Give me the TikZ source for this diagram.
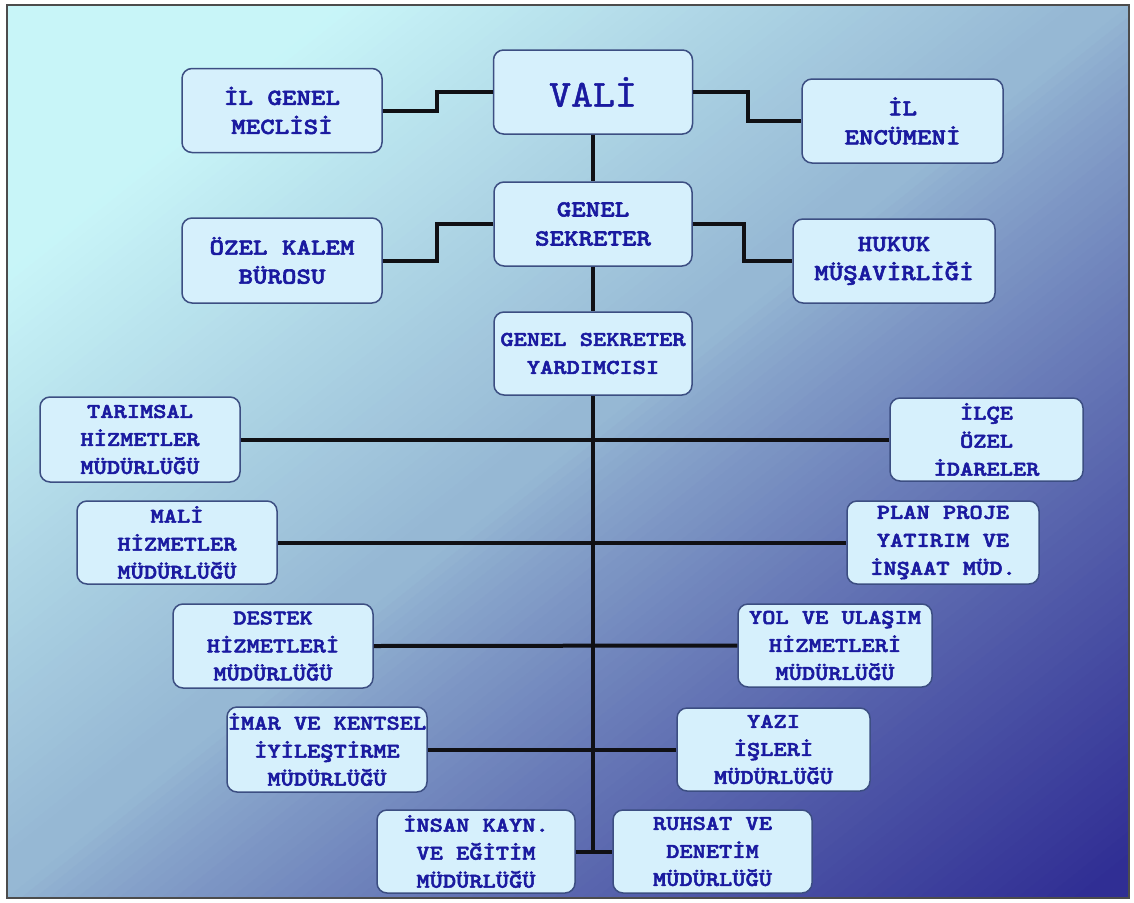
\documentclass[tikz,border=0pt]{standalone}
\usepackage{fontspec}
\newfontfamily\orgfont{lmmonolt10-bold.otf}[FakeStretch=1.2,FakeBold=2.5]
\newfontfamily\valifont{lmmono10-regular.otf}[FakeStretch=1.1,FakeBold=1.2]
\usetikzlibrary{positioning,calc}
\definecolor{boxfill}{RGB}{214,240,252}
\definecolor{boxedge}{RGB}{60,78,130}
\definecolor{boxtext}{RGB}{26,26,160}
\definecolor{linecol}{RGB}{16,16,20}
\definecolor{bgtop}{RGB}{200,245,248}
\definecolor{bgmid}{RGB}{150,184,212}
\definecolor{bgbot}{RGB}{48,46,148}

\begin{document}
\begin{tikzpicture}[x=1pt,y=-1pt,
  unit/.style={draw=boxedge, line width=1.5pt, fill=boxfill, rounded corners=10pt,
    text=boxtext, align=center, inner sep=0pt,
    minimum width=200pt, minimum height=84pt,
    font=\orgfont\fontsize{21}{28}\selectfont},
  topunit/.style={unit, font=\orgfont\fontsize{23}{29}\selectfont},
  link/.style={draw=linecol, line width=4pt}]

\useasboundingbox (0,0) rectangle (1134,902);
\fill[white] (0,0) rectangle (1134,902);
% background gradient, corner to corner
\begin{scope}
\clip (7,5) rectangle (1129,898);
\begin{scope}[shift={(568,451.5)}, rotate=-51.5]
\foreach \i in {0,...,79}{
  \pgfmathsetmacro\ua{-698.7+\i*8.734}
  \pgfmathsetmacro\tval{(\i+0.5)/160}
  \pgfmathsetmacro\pa{max(0,min(100,(\tval-0.15)/0.33*100))}
  \fill[bgmid!\pa!bgtop] (\ua,-900) rectangle ++(9.4,1800);
}
\foreach \i in {80,...,159}{
  \pgfmathsetmacro\ua{-698.7+\i*8.734}
  \pgfmathsetmacro\tval{(\i+0.5)/160}
  \pgfmathsetmacro\pa{min(100,100*((\tval-0.5)/0.48)^0.8)}
  \fill[bgbot!\pa!bgmid] (\ua,-900) rectangle ++(9.4,1800);
}
\end{scope}
\end{scope}
\draw[gray!60!black, line width=1.5pt] (7,5) rectangle (1129,898);

% top level
\node[unit, font=\valifont\fontsize{38}{40}\selectfont, minimum width=199pt] (vali) at (593,92) {VALİ};
\node[topunit] (meclis) at (282,110.5) {İL GENEL\\MECLİSİ};
\node[topunit, minimum width=201pt] (encumen) at (902.5,121) {İL\\ENCÜMENİ};

% genel sekreter
\node[topunit, minimum width=198pt] (gs) at (593,224) {GENEL\\SEKRETER};
\node[topunit, minimum height=85pt] (kalem) at (282,260.5) {ÖZEL KALEM\\BÜROSU};
\node[topunit, minimum width=202pt] (hukuk) at (894,261) {HUKUK\\MÜŞAVİRLİĞİ};
\node[unit, minimum width=198pt, minimum height=83pt] (gsy) at (593,353.5) {GENEL SEKRETER\\YARDIMCISI};

% mudurlukler
\node[unit, minimum height=85pt] (tarim) at (140,439.5) {TARIMSAL\\HİZMETLER\\MÜDÜRLÜĞÜ};
\node[unit, minimum width=193pt, minimum height=83pt] (ilce) at (986.5,439.5) {İLÇE\\ÖZEL\\İDARELER};
\node[unit, minimum height=83pt] (mali) at (177,542.5) {MALİ\\HİZMETLER\\MÜDÜRLÜĞÜ};
\node[unit, minimum width=192pt, minimum height=83pt] (plan) at (943,542.5) {PLAN PROJE\\YATIRIM VE\\İNŞAAT MÜD.};
\node[unit] (destek) at (273,646) {DESTEK\\HİZMETLERİ\\MÜDÜRLÜĞÜ};
\node[unit, minimum width=194pt, minimum height=83pt] (yol) at (835,645.5) {YOL VE ULAŞIM\\HİZMETLERİ\\MÜDÜRLÜĞÜ};
\node[unit, minimum height=85pt] (imar) at (327,749.5) {İMAR VE KENTSEL\\İYİLEŞTİRME\\MÜDÜRLÜĞÜ};
\node[unit, minimum width=193pt, minimum height=83pt] (yazi) at (773.5,749.5) {YAZI\\İŞLERİ\\MÜDÜRLÜĞÜ};
\node[unit, minimum width=198pt, minimum height=83pt] (insan) at (476,851.5) {İNSAN KAYN.\\VE EĞİTİM\\MÜDÜRLÜĞÜ};
\node[unit, minimum width=199pt, minimum height=83pt] (ruhsat) at (712.5,851.5) {RUHSAT VE\\DENETİM\\MÜDÜRLÜĞÜ};

% connectors
\draw[link] (vali.west) -- ++(-56,0) |- (meclis.east);
\draw[link] (vali.east) -- ++(55,0) |- (encumen.west);
\draw[link] (gs.west) -- ++(-56,0) |- (kalem.east);
\draw[link] (gs.east) -- ++(51,0) |- (hukuk.west);
\draw[link] (vali.south) -- (gs.north);
\draw[link] (gs.south) -- (gsy.north);
\coordinate (spineend) at (gsy.south |- insan.east);
\draw[link] (gsy.south) -- (spineend);
\draw[link] (tarim.east) -- (ilce.west);
\draw[link] (mali.east) -- (plan.west);
\draw[link] (destek.east) -- (yol.west);
\draw[link] (imar.east) -- (yazi.west);
\draw[link] (insan.east) -- (ruhsat.west);

\end{tikzpicture}
\end{document}
